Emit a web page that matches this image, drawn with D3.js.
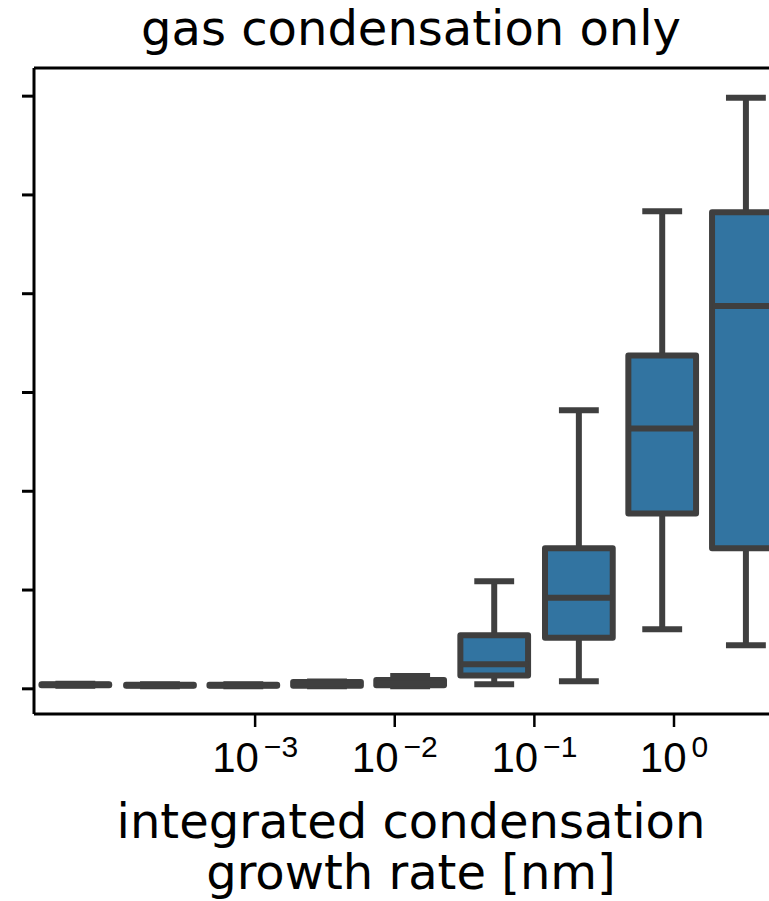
<!DOCTYPE html>
<html>
<head>
<meta charset="utf-8">
<script src="https://cdn.jsdelivr.net/npm/d3@7"></script>
<style>
  body { margin: 0; background: #fff; }
  svg { display: block; font-family: "DejaVu Sans", sans-serif; }
</style>
</head>
<body>
<div id="chart"></div>
<script>
const width = 769;
const height = 901;
const margin = ({top: 68, right: -19, bottom: 187, left: 34});

// bin centres of the integrated growth rate [nm]
const binCenters = [5.2e-5, 2.1e-4, 8.3e-4, 3.3e-3, 1.3e-2, 5.2e-2, 0.21, 0.83, 3.3];
const whiskerLow = [0.025, 0.022, 0.022, 0.02, 0.02, 0.04, 0.071, 0.597, 0.435];
const q1 = [0.03, 0.025, 0.025, 0.025, 0.03, 0.13, 0.511, 1.77, 1.417];
const median = [0.035, 0.03, 0.03, 0.045, 0.05, 0.243, 0.916, 2.63, 3.87];
const q3 = [0.04, 0.035, 0.035, 0.065, 0.085, 0.536, 1.417, 3.37, 4.82];
const whiskerHigh = [0.045, 0.04, 0.04, 0.07, 0.125, 1.083, 2.814, 4.83, 5.98];

const yTicks = [0, 1, 2, 3, 4, 5, 6];
const xTicks = [1e-3, 1e-2, 1e-1, 1];
const xTickExp = ["\u22123", "\u22122", "\u22121", "0"];

const boxFill = "#3274a1";
const lineColor = "#3f3f3f";
const lw = 6;

const svg = d3.select("#chart")
    .append("svg")
    .attr("width", width)
    .attr("height", height);

const x = d3.scaleLog()
    .domain([Math.pow(10, -4.58), Math.pow(10, 0.82)])
    .range([margin.left, width - margin.right]);

const y = d3.scaleLinear()
    .domain([-0.26, 6.28])
    .range([height - margin.bottom, margin.top]);

svg.append("clipPath")
    .attr("id", "plotclip")
    .append("rect")
    .attr("x", margin.left)
    .attr("y", margin.top)
    .attr("width", width - margin.right - margin.left)
    .attr("height", height - margin.bottom - margin.top);

const step = x(binCenters[1]) - x(binCenters[0]);
const boxW = step * 0.8;
const capW = boxW * 0.5;

const data = binCenters.map((c, i) => ({
    c: c, lo: whiskerLow[i], q1: q1[i], med: median[i], q3: q3[i], hi: whiskerHigh[i]
}));

const plot = svg.append("g").attr("clip-path", "url(#plotclip)");

const boxes = plot.selectAll(".box")
    .data(data)
    .enter()
    .append("g")
    .attr("class", "box");

// whiskers
boxes.append("line")
    .attr("x1", d => x(d.c)).attr("x2", d => x(d.c))
    .attr("y1", d => y(d.hi)).attr("y2", d => y(d.q3))
    .attr("stroke", lineColor).attr("stroke-width", lw);
boxes.append("line")
    .attr("x1", d => x(d.c)).attr("x2", d => x(d.c))
    .attr("y1", d => y(d.q1)).attr("y2", d => y(d.lo))
    .attr("stroke", lineColor).attr("stroke-width", lw);

// caps
boxes.append("line")
    .attr("x1", d => x(d.c) - capW / 2).attr("x2", d => x(d.c) + capW / 2)
    .attr("y1", d => y(d.hi)).attr("y2", d => y(d.hi))
    .attr("stroke", lineColor).attr("stroke-width", lw).attr("stroke-linecap", "square");
boxes.append("line")
    .attr("x1", d => x(d.c) - capW / 2).attr("x2", d => x(d.c) + capW / 2)
    .attr("y1", d => y(d.lo)).attr("y2", d => y(d.lo))
    .attr("stroke", lineColor).attr("stroke-width", lw).attr("stroke-linecap", "square");

// box body
boxes.append("rect")
    .attr("x", d => x(d.c) - boxW / 2)
    .attr("width", boxW)
    .attr("y", d => y(d.q3))
    .attr("height", d => Math.max(0.5, y(d.q1) - y(d.q3)))
    .attr("fill", boxFill)
    .attr("stroke", lineColor)
    .attr("stroke-width", lw)
    .attr("stroke-linejoin", "round");

// median
boxes.append("line")
    .attr("x1", d => x(d.c) - boxW / 2).attr("x2", d => x(d.c) + boxW / 2)
    .attr("y1", d => y(d.med)).attr("y2", d => y(d.med))
    .attr("stroke", lineColor).attr("stroke-width", lw);

// axes
const yAxis = d3.axisLeft(y).tickValues(yTicks).tickSize(12).tickFormat("");
const yg = svg.append("g")
    .attr("transform", "translate(" + margin.left + ",0)")
    .call(yAxis);
yg.select(".domain").remove();
yg.selectAll(".tick line").attr("stroke", "#000").attr("stroke-width", 3);

const xAxis = d3.axisBottom(x).tickValues(xTicks).tickSize(13).tickFormat("");
const xg = svg.append("g")
    .attr("transform", "translate(0," + (height - margin.bottom) + ")")
    .call(xAxis);
xg.select(".domain").remove();
xg.selectAll(".tick line").attr("stroke", "#000").attr("stroke-width", 2.5);

xg.selectAll(".tick")
    .append("text")
    .attr("y", 58)
    .attr("fill", "#000")
    .attr("text-anchor", "middle")
    .style("font-size", "42px")
    .each(function (d, i) {
        const t = d3.select(this);
        t.append("tspan").text("10");
        t.append("tspan")
            .attr("dx", 5)
            .attr("dy", -15)
            .style("font-size", "30px")
            .text(xTickExp[i]);
    });

// spines
const frame = svg.append("g")
    .attr("fill", "none")
    .attr("stroke", "#000")
    .attr("stroke-width", 3);
frame.append("line")
    .attr("x1", margin.left).attr("x2", margin.left)
    .attr("y1", margin.top).attr("y2", height - margin.bottom);
frame.append("line")
    .attr("x1", margin.left).attr("x2", width)
    .attr("y1", margin.top).attr("y2", margin.top);
frame.append("line")
    .attr("x1", margin.left).attr("x2", width)
    .attr("y1", height - margin.bottom).attr("y2", height - margin.bottom);

// title
svg.append("text")
    .attr("x", (margin.left + width - margin.right) / 2)
    .attr("y", 45)
    .attr("text-anchor", "middle")
    .style("font-size", "48px")
    .text("gas condensation only");

// x label
const xl = svg.append("text")
    .attr("x", (margin.left + width - margin.right) / 2)
    .attr("y", 838)
    .attr("text-anchor", "middle")
    .style("font-size", "48px");
xl.append("tspan").text("integrated condensation");
xl.append("tspan")
    .attr("x", (margin.left + width - margin.right) / 2)
    .attr("dy", 51)
    .text("growth rate [nm]");
</script>
</body>
</html>
